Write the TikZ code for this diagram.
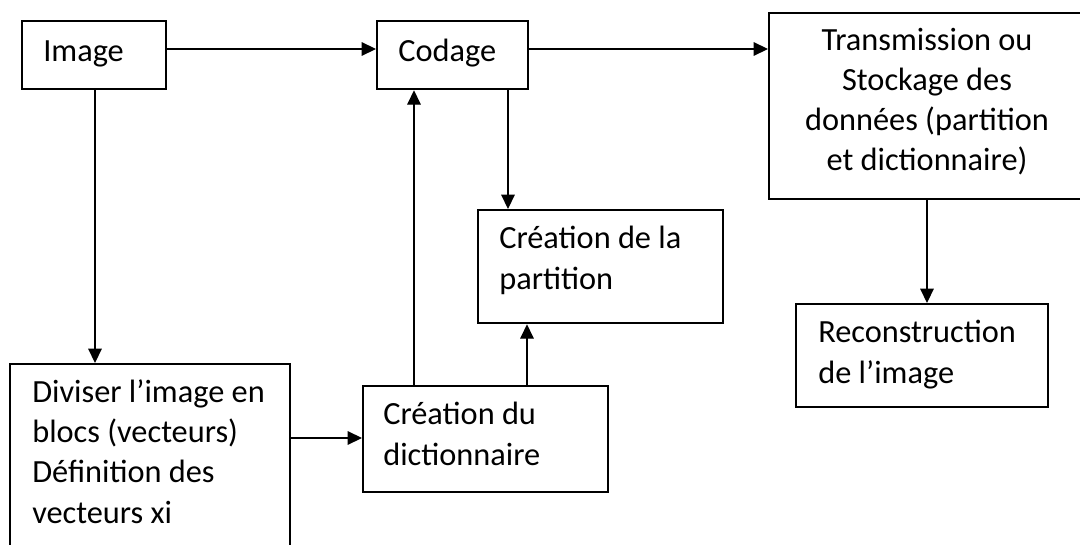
\documentclass[tikz,border=0pt]{standalone}
\usepackage{fontspec}
\setmainfont{Carlito}
\usetikzlibrary{arrows.meta}

\tikzset{
    box/.style = {draw = black, line width = 1.6pt, inner sep = 0pt, anchor = north west},
    label text/.style = {anchor = base west, align = left, inner sep = 0pt},
    flow/.style = {line width = 0.9pt, -{Triangle[length = 0.36cm, width = 0.34cm]}}
}

\begin{document}
\begin{tikzpicture}[%
        x = 0.025cm,
        y = -0.025cm,
        font = \fontsize{23}{28.45}\selectfont
    ]

        \useasboundingbox (0,0) rectangle (1080,545);

        % Outlines of the boxes.
        \node[box, minimum width = 3.6cm, minimum height = 1.7cm] (image) at (21,20) {};
        \node[box, minimum width = 3.775cm, minimum height = 1.7cm] (codage) at (376,20) {};
        \node[box, minimum width = 7.95cm, minimum height = 4.65cm] (trans) at (768,12) {};
        \node[box, minimum width = 6.125cm, minimum height = 2.825cm] (part) at (477,209) {};
        \node[box, minimum width = 6.3cm, minimum height = 2.575cm] (recon) at (795,303) {};
        \node[box, minimum width = 7cm, minimum height = 4.925cm] (divis) at (9,363) {};
        \node[box, minimum width = 6.125cm, minimum height = 2.65cm] (dico) at (362,385) {};

        % Texts in the boxes (anchored at the baseline of their last line).
        \node[label text] (imagetxt) at (43,62) {Image};
        \node[label text] (codagetxt) at (398,62) {Codage};
        \node[label text, anchor = base, align = center] (transtxt) at (927,171)
            {Transmission ou\\Stockage des\\données (partition\\et dictionnaire)};
        \node[label text] (parttxt) at (499,289) {Création de la\\partition};
        \node[label text] (recontxt) at (818,383) {Reconstruction\\de l’image};
        \node[label text] (divistxt) at (32,523)
            {Diviser l’image en\\blocs (vecteurs)\\Définition des\\vecteurs xi};
        \node[label text] (dicotxt) at (383,465) {Création du\\dictionnaire};

        % Arrows between the boxes.
        \draw[flow] (image.east |- 0,49) -- (codage.west |- 0,49);
        \draw[flow] (codage.east |- 0,49) -- (trans.west |- 0,49);
        \draw[flow] (image.south -| 95,0) -- (divis.north -| 95,0);
        \draw[flow] (divis.east |- 0,438) -- (dico.west |- 0,438);
        \draw[flow] (dico.north -| 414,0) -- (codage.south -| 414,0);
        \draw[flow] (dico.north -| 527,0) -- (part.south -| 527,0);
        \draw[flow] (codage.south -| 508,0) -- (part.north -| 508,0);
        \draw[flow] (trans.south -| 927,0) -- (recon.north -| 927,0);
    \end{tikzpicture}
\end{document}
